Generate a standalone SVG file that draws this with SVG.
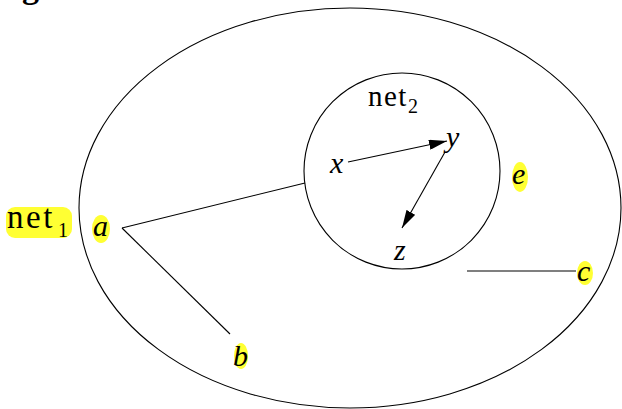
<svg xmlns="http://www.w3.org/2000/svg" width="622" height="409" viewBox="0 0 622 409">
<style>
.ln{fill:none;stroke:#000;stroke-width:1.1}
.hl{fill:#ffff33}
.v{font-family:"Liberation Serif",serif;font-style:italic;font-size:30px;fill:#000}
.r{font-family:"Liberation Serif",serif;fill:#000}
.s{font-family:"Liberation Serif",serif;font-size:20px;fill:#000}
</style>
<defs>
<marker id="ah" viewBox="0 0 18 10" refX="18" refY="5" markerWidth="18" markerHeight="10" markerUnits="userSpaceOnUse" orient="auto">
<path d="M0,0 L18,5 L0,10 Z" fill="#000"/>
</marker>
</defs>
<text x="22" y="-2" font-family="Liberation Serif,serif" font-weight="bold" font-size="34">g</text>
<g id="net1">
<ellipse class="ln" cx="350" cy="208" rx="271" ry="200"/>
<rect class="hl" x="6" y="207" width="66" height="31" rx="9"/>
<text class="r" x="7" y="228" font-size="33" letter-spacing="2.5">net</text>
<text class="s" x="58" y="237">1</text>
</g>
<g id="net2">
<circle class="ln" cx="402" cy="171" r="98"/>
<text class="r" x="368" y="106" font-size="29" letter-spacing="1.5">net</text>
<text class="s" x="408" y="113">2</text>
</g>
<g id="a"><ellipse class="hl" cx="101" cy="229" rx="9" ry="14"/><text class="v" x="93" y="236">a</text></g>
<g id="b"><ellipse class="hl" cx="241" cy="356" rx="7" ry="13"/><text class="v" x="233" y="366">b</text></g>
<g id="c"><ellipse class="hl" cx="585" cy="273" rx="8" ry="12"/><text class="v" x="577" y="281">c</text></g>
<g id="e"><ellipse class="hl" cx="520" cy="177" rx="8" ry="15"/><text class="v" x="512" y="184">e</text></g>
<g id="x"><text class="v" x="330" y="173">x</text></g>
<g id="y"><text class="v" x="446" y="147">y</text></g>
<g id="z"><text class="v" x="394" y="260">z</text></g>
<g id="connectors">
<line class="ln" x1="122" y1="228" x2="305" y2="183"/>
<line class="ln" x1="122" y1="228" x2="230" y2="334"/>
<line class="ln" x1="467" y1="271" x2="576" y2="271"/>
<line class="ln" x1="348" y1="162" x2="447" y2="141" marker-end="url(#ah)"/>
<line class="ln" x1="445" y1="152" x2="402" y2="228" marker-end="url(#ah)"/>
</g>
</svg>
